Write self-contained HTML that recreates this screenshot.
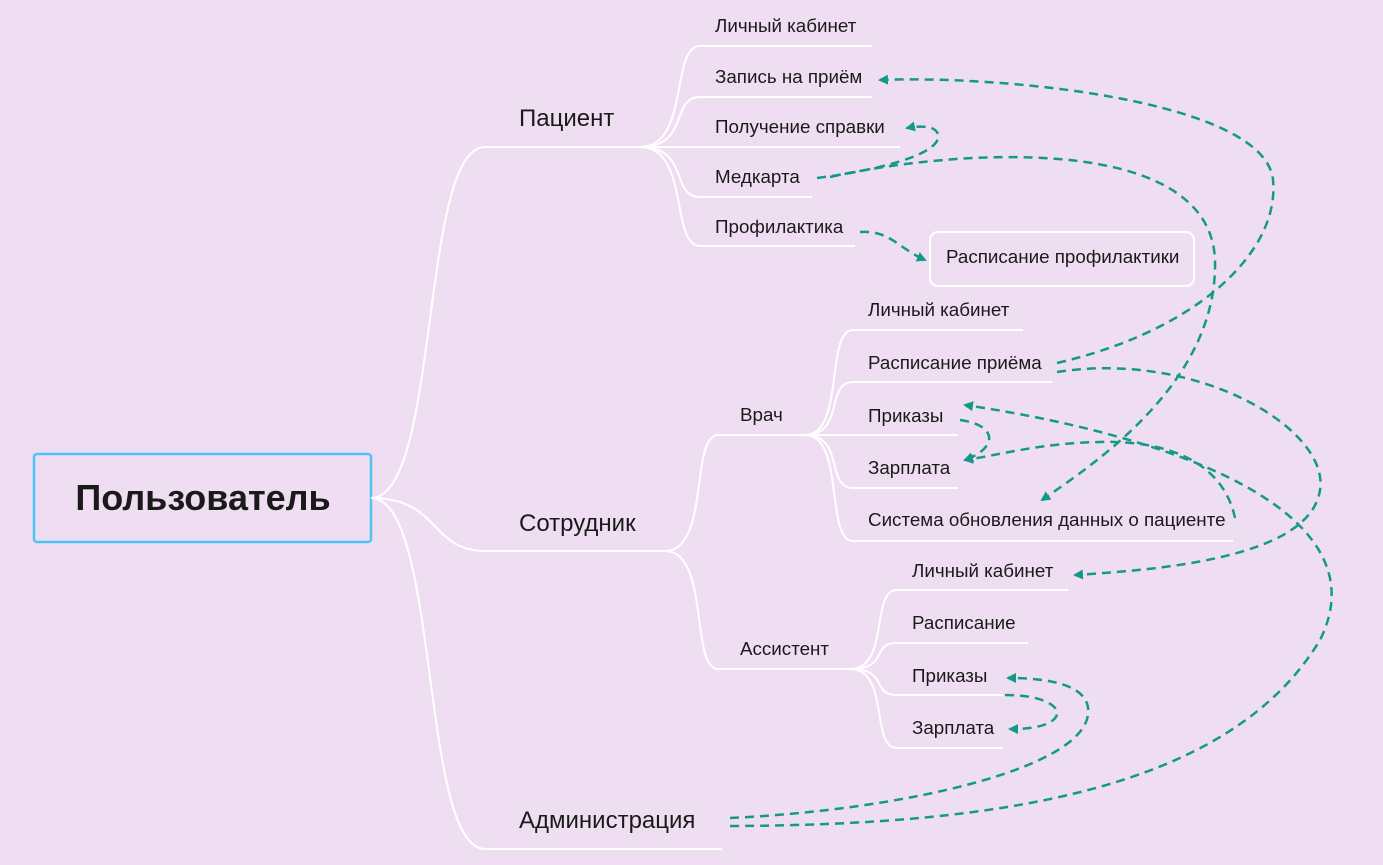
<!DOCTYPE html>
<html><head><meta charset="utf-8"><style>
html,body{margin:0;padding:0;background:#efdef1;}
svg{display:block;font-family:"Segoe UI","Liberation Sans","DejaVu Sans",sans-serif;}
.t{fill:#1a1a1a;font-size:18.8px;}
.b{fill:#1a1a1a;font-size:24px;}
.w{stroke:#fff;stroke-width:2;fill:none;}
.d{stroke:#13998a;stroke-width:2.5;fill:none;stroke-dasharray:9 6;}
</style></head><body>
<svg width="1383" height="865" viewBox="0 0 1383 865">
<defs><marker id="ah" markerWidth="10" markerHeight="10" refX="8" refY="5" orient="auto" markerUnits="userSpaceOnUse"><path d="M0,0 L10,5 L0,10 z" fill="#13998a"/></marker></defs>
<rect width="1383" height="865" fill="#efdef1"/>
<g>
<rect x="34" y="454" width="337" height="88" rx="3" fill="#efdef1" stroke="#4fc3f7" stroke-width="2.5"/>
<text x="203" y="510" text-anchor="middle" font-size="36" font-weight="bold" fill="#1a1a1a">Пользователь</text>
</g>
<g>
<path class="w" d="M371,498 C440,498 420,147 485,147 L640,147"/>
<path class="w" d="M371,498 C440,498 430,551 485,551 L665,551"/>
<path class="w" d="M371,498 C440,498 420,849 485,849 L722,849"/>
<path class="w" d="M640,147 C690,147 670,46 700,46 L872,46"/>
<path class="w" d="M640,147 C690,147 670,97 700,97 L872,97"/>
<path class="w" d="M640,147 L900,147"/>
<path class="w" d="M640,147 C690,147 670,197 700,197 L812,197"/>
<path class="w" d="M640,147 C690,147 670,246 700,246 L855,246"/>
<path class="w" d="M665,551 C710,551 690,435 718,435 L805,435"/>
<path class="w" d="M665,551 C710,551 690,669 718,669 L850,669"/>
<path class="w" d="M805,435 C845,435 825,330 853,330 L1023,330"/>
<path class="w" d="M805,435 C845,435 825,382 853,382 L1052,382"/>
<path class="w" d="M805,435 L958,435"/>
<path class="w" d="M805,435 C845,435 825,488 853,488 L958,488"/>
<path class="w" d="M805,435 C845,435 825,541 853,541 L1233,541"/>
<path class="w" d="M850,669 C890,669 870,590 897,590 L1068,590"/>
<path class="w" d="M850,669 C890,669 870,643 897,643 L1028,643"/>
<path class="w" d="M850,669 C890,669 870,695 897,695 L1003,695"/>
<path class="w" d="M850,669 C890,669 870,748 897,748 L1003,748"/>
</g>
<text class="b" x="519" y="126">Пациент</text>
<text class="b" x="519" y="531">Сотрудник</text>
<text class="b" x="519" y="828">Администрация</text>
<text class="t" x="715" y="32">Личный кабинет</text>
<text class="t" x="715" y="83">Запись на приём</text>
<text class="t" x="715" y="133">Получение справки</text>
<text class="t" x="715" y="183">Медкарта</text>
<text class="t" x="715" y="233">Профилактика</text>
<g>
<rect x="930" y="232" width="264" height="54" rx="8" fill="none" stroke="#fff" stroke-width="2"/>
<text class="t" x="946" y="263">Расписание профилактики</text>
</g>
<text class="t" x="740" y="421">Врач</text>
<text class="t" x="740" y="655">Ассистент</text>
<text class="t" x="868" y="316">Личный кабинет</text>
<text class="t" x="868" y="369">Расписание приёма</text>
<text class="t" x="868" y="422">Приказы</text>
<text class="t" x="868" y="474">Зарплата</text>
<text class="t" x="868" y="526">Система обновления данных о пациенте</text>
<text class="t" x="912" y="577">Личный кабинет</text>
<text class="t" x="912" y="629">Расписание</text>
<text class="t" x="912" y="682">Приказы</text>
<text class="t" x="912" y="734">Зарплата</text>
<g>
<path class="d" marker-end="url(#ah)" d="M1057,363 C1200,330 1280,250 1273,180 C1265,100 1000,75 880,80"/>
<path class="d" marker-end="url(#ah)" d="M817,178 C880,170 935,155 938,138 C940,126 922,125 907,128"/>
<path class="d" marker-end="url(#ah)" d="M830,177 C950,150 1210,130 1215,260 C1218,380 1100,460 1042,500"/>
<path class="d" marker-end="url(#ah)" d="M860,232 C890,230 898,248 925,260"/>
<path class="d" marker-end="url(#ah)" d="M960,420 C998,425 998,448 965,460"/>
<path class="d" marker-end="url(#ah)" d="M1235,518 C1225,470 1180,440 1100,442 C1040,443 1000,455 965,460"/>
<path class="d" marker-end="url(#ah)" d="M1057,372 C1200,350 1330,430 1320,490 C1310,560 1150,570 1075,575"/>
<path class="d" marker-end="url(#ah)" d="M730,818 C900,810 1080,770 1088,715 C1092,685 1050,678 1008,678"/>
<path class="d" marker-end="url(#ah)" d="M730,826 C1000,825 1230,790 1320,640 C1380,520 1200,440 965,405"/>
<path class="d" marker-end="url(#ah)" d="M1005,695 C1072,695 1075,730 1010,729"/>
</g>
</svg>
</body></html>
